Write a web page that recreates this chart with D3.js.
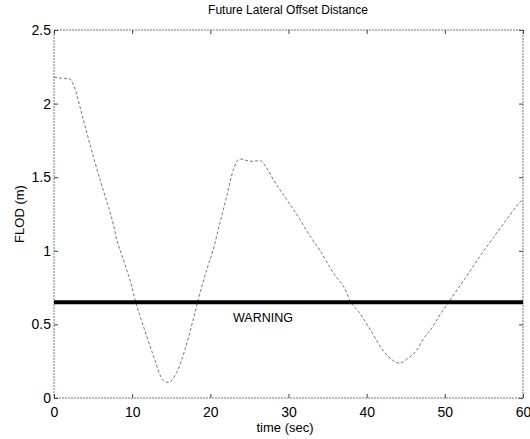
<!DOCTYPE html>
<html><head><meta charset="utf-8">
<script src="https://cdn.jsdelivr.net/npm/d3@7"></script>
<style>body{margin:0;background:#fff;} text{font-family:"Liberation Sans",Arial,sans-serif;}</style>
</head><body>
<svg id="c" width="530" height="439"></svg>
<script>
const title = "Future Lateral Offset Distance";
const xLabel = "time (sec)";
const yLabel = "FLOD (m)";
const xTicks = [0,10,20,30,40,50,60];
const yTicks = [0,0.5,1,1.5,2,2.5];
const warningLevel = 0.65;
const warningText = "WARNING";
const timeSec = [0,0.55,2.05,2.47,3.75,5.03,6.31,7.59,8.02,8.87,9.94,10.36,11.42,12.70,13.98,14.62,15.70,16.76,17.82,18.46,19.53,20.38,21.02,22.09,22.94,23.79,25.07,26.35,27.21,28.06,29.77,31.47,32.75,33.81,35.73,37.44,37.87,38.93,40.43,42.13,43.41,44.26,45.12,46.40,47.24,48.52,49.16,50.88,52.80,54.50,56.20,57.91,59.61,60];
const flod = [2.18,2.175,2.166,2.13,1.89,1.64,1.41,1.18,1.08,0.94,0.76,0.67,0.49,0.29,0.12,0.106,0.174,0.33,0.535,0.67,0.87,1.01,1.145,1.37,1.55,1.624,1.608,1.612,1.563,1.484,1.348,1.213,1.10,1.02,0.85,0.716,0.66,0.59,0.467,0.32,0.253,0.237,0.264,0.325,0.40,0.49,0.547,0.682,0.829,0.964,1.089,1.213,1.33,1.35];

const svg = d3.select("#c");
const L=54, R=523, T=30, B=398;
const x = d3.scaleLinear().domain([0,60]).range([L,R]);
const y = d3.scaleLinear().domain([0,2.5]).range([B,T]);

svg.append("rect").attr("x",L).attr("y",T).attr("width",R-L).attr("height",B-T)
  .attr("fill","none").attr("stroke","#777").attr("stroke-width",1).attr("stroke-dasharray","2,1");

const ax = d3.axisBottom(x).tickValues(xTicks).tickSize(-4).tickPadding(7).tickFormat(d3.format("d"));
const gx = svg.append("g").attr("transform",`translate(0,${B})`).call(ax);
const axT = d3.axisTop(x).tickValues(xTicks).tickSize(-4).tickFormat("");
const gxt = svg.append("g").attr("transform",`translate(0,${T})`).call(axT);
const ay = d3.axisLeft(y).tickValues(yTicks).tickSize(-4).tickPadding(3).tickFormat(d=>d===0?"0":String(d));
const gy = svg.append("g").attr("transform",`translate(${L},0)`).call(ay);
const ayR = d3.axisRight(y).tickValues(yTicks).tickSize(-4).tickFormat("");
const gyr = svg.append("g").attr("transform",`translate(${R},0)`).call(ayR);
[gx,gxt,gy,gyr].forEach(g=>{
  g.select(".domain").remove();
  g.selectAll(".tick line").attr("stroke","#444");
  g.selectAll("text").attr("font-size",14).attr("fill","#000").attr("font-family","Liberation Sans, Arial, sans-serif");
});
gx.selectAll("text").attr("dy","0.85em");

const line = d3.line().x((d,i)=>x(timeSec[i])).y(d=>y(d)).curve(d3.curveMonotoneX);
svg.append("path").datum(flod).attr("d",line).attr("fill","none")
  .attr("stroke","#777").attr("stroke-width",1).attr("stroke-dasharray","3,2");

svg.append("line").attr("x1",x(0)).attr("x2",x(60)).attr("y1",y(warningLevel)).attr("y2",y(warningLevel))
  .attr("stroke","#000").attr("stroke-width",4);
svg.append("text").attr("x",x(22.9)).attr("y",y(0.515)).attr("font-size",12.5).attr("fill","#000").text(warningText);

svg.append("text").attr("x",288).attr("y",14).attr("text-anchor","middle").attr("font-size",12).text(title);
svg.append("text").attr("x",285).attr("y",432).attr("text-anchor","middle").attr("font-size",13).text(xLabel);
svg.append("text").attr("transform","translate(24,214) rotate(-90)").attr("text-anchor","middle").attr("font-size",13).text(yLabel);
</script>
</body></html>
